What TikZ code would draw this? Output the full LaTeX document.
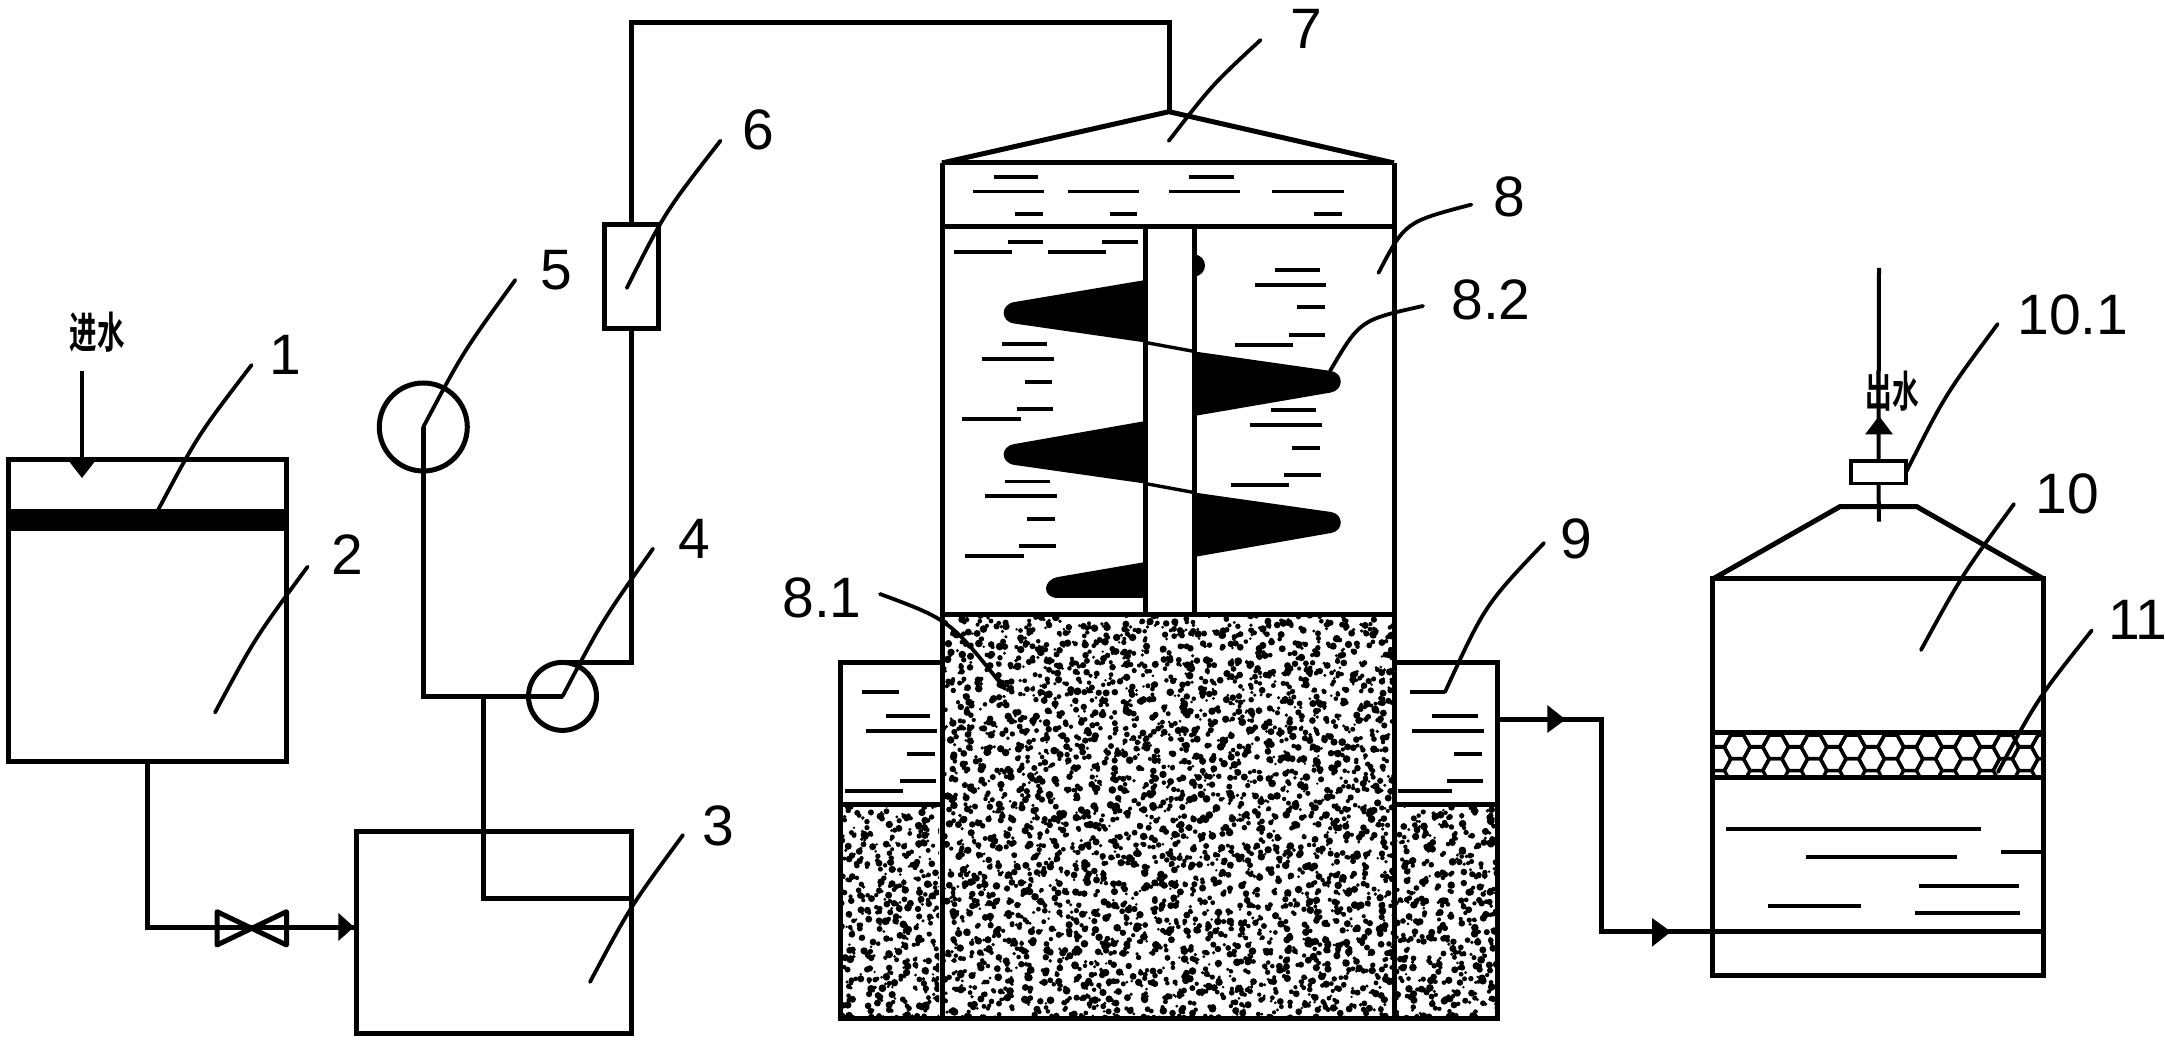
\documentclass[tikz,border=0pt]{standalone}
\usepackage{graphicx}
\usepackage{fontspec}
\setmainfont{Liberation Sans}
\newfontfamily\cjk{Noto Sans CJK SC Bold}
\newcommand\dashset[1]{\foreach \a/\b/\c in {#1} {\draw[liq] (\a,\c) -- (\b,\c);}}
\newcommand\stipple[6]{% x0 y0 x1 y1 nx ny
  \begin{scope}
  \clip (#1,#2) rectangle (#3,#4);
  \foreach \ix in {0,...,#5} {
   \foreach \iy in {0,...,#6} {
    \fill ({#1-4+(\ix+1.5*rnd)*9.6},{#2-4+(\iy+1.5*rnd)*9.6}) circle[radius={2.2+1.7*rnd}]
    ++({-5+10*rnd},{-5+10*rnd}) circle[radius={1.3+1.1*rnd}];
   }}
  \end{scope}}
\tikzset{
  pipe/.style={line width=2.5pt,line join=miter},
  thinpipe/.style={line width=2pt},
  leader/.style={line width=1.9pt,line cap=round},
  liq/.style={line width=1.9pt},
  boxnode/.style={draw,line width=2.5pt,inner sep=0pt,outer sep=0pt},
  ringnode/.style={draw,circle,line width=2.5pt,inner sep=0pt,outer sep=0pt},
  numlabel/.style={font=\fontsize{28.5}{30}\selectfont,inner sep=0pt},
  hanlabel/.style={font=\cjk\fontsize{21.5}{23}\selectfont,inner sep=0pt}
}
\begin{document}
\begin{tikzpicture}[x=0.5pt,y=-0.5pt]
\useasboundingbox (0,0) rectangle (2165,1042);
\fill[white] (0,0) rectangle (2165,1042);
\pgfmathsetseed{4242}
% ---- nodes of the left part
\node[boxnode,minimum width=139.25pt,minimum height=151pt] (tank) at (147.25,611) {};
\node[boxnode,minimum width=137.5pt,minimum height=100.75pt] (box3) at (493.5,932.25) {};
\node[ringnode,minimum size=44pt] (pump5) at (423.3,427) {};
\node[ringnode,minimum size=34pt] (pump4) at (562.5,696.4) {};
\node[boxnode,minimum width=27pt,minimum height=52pt] (meter6) at (631,276.2) {};
\fill (tank.west |- 0,509.4) rectangle (tank.east |- 0,530.7);
% feed
\coordinate (feedtop) at (82,371);
\coordinate (feedend) at (82,460);
\draw[thinpipe] (feedtop) -- (feedend);
\fill (68,460) -- (96,460) -- (82,478) -- cycle;
\node[hanlabel] (inlab) at (97,332) {\scalebox{0.64}[1]{进水}};
% pipe to box 3 with valve
\coordinate (valveL) at (217,927);
\coordinate (valveR) at (286.5,927);
\coordinate (in3) at (box3.west |- 0,927);
\draw[pipe] (tank.south) |- (valveL);
\draw[pipe] (valveR) -- (in3);
\draw[pipe] (valveL) -- (valveR);
\draw[pipe,line join=round] (217,911.7) -- (286.5,945) -- (286.5,911.7) -- (217,945) -- cycle;
\fill (338.4,913) -- (354,927) -- (338.4,941) -- cycle;
% pipes of the pump loop
\coordinate (tee) at (483.5,696.4);
\coordinate (drop) at (box3.east |- 0,898);
\draw[pipe] (tee) |- (drop);
\draw[pipe] (pump5.center) -- (423.3,696.4) -- (pump4.center);
\draw[pipe] (pump4.north) -- (562.5,662.4) -- (631,662.4) -- (meter6.south);
\coordinate (apex) at (1169,111.7);
\draw[pipe] (meter6.north) |- (1169,22.7) -- (apex);
% ---- reactor
\stipple{944}{617}{1392}{1016}{47}{42}
\stipple{842}{807}{939}{1016}{10}{22}
\stipple{1397}{807}{1496}{1016}{10}{22}
\draw[pipe,line join=bevel] (942,163) -- (apex) -- (1394,163);
\draw[pipe] (942,163) -- (1394,163) (942,226.4) -- (1394,226.4);
\draw[pipe] (942,163) -- (942,1018) (1394,163) -- (1394,1018);
\draw[pipe] (1145.5,226.4) -- (1145.5,614.6) (1194,226.4) -- (1194,614.6);
\draw[pipe] (942,614.6) -- (1394,614.6);
\draw[pipe] (942,662.8) -- (840,662.8) -- (840,1018) -- (1497,1018) -- (1497,662.8) -- (1394,662.8);
\draw[pipe] (840,804.7) -- (942,804.7) (1394,804.7) -- (1497,804.7);
% shaft knob
\fill (1194,254.5) arc[start angle=90,end angle=-90,radius=5.5pt] -- cycle;
% blades
\fill (1145.5,280) -- (1014.7,302) .. controls (1000,304) and (1000,322) .. (1014.7,323.6) -- (1145.5,342.5) -- cycle;
\fill (1194,351.4) -- (1331,371) .. controls (1344,373) and (1344,390) .. (1331,392.5) -- (1194,416) -- cycle;
\fill (1145.5,421) -- (1014.7,444) .. controls (1000,446) and (1000,463) .. (1014.7,465) -- (1145.5,483.6) -- cycle;
\fill (1194,492.5) -- (1331,512) .. controls (1344,514) and (1344,531) .. (1331,533) -- (1194,557) -- cycle;
\fill (1145.5,562) -- (1058,577) .. controls (1042,580) and (1042,598) .. (1058,598) -- (1145.5,598) -- cycle;
\draw[line width=1.7pt] (1145.5,342.5) -- (1194,351.4) (1145.5,483.6) -- (1194,492.5);
% liquid marks in the reactor
\begin{scope}[shift={(900,80)},x=0.19771pt,y=-0.17857pt]
\dashset{237/350/271,185/365/312,424/604/312,680/860/312,942/1122/312,730/845/271,292/362/375,530/600/375,1048/1118/375,
273/362/453,510/602/453,137/282/481,374/522/481,
948/1063/532,898/1078/574,1004/1074/636,985/1076/714,848/995/742,
259/373/739,208/390/781,315/385/845,295/387/921,158/306/950,
937/1051/925,885/1066/966,992/1063/1030,972/1065/1107,836/983/1135,
265/380/1124,214/396/1164,321/391/1229,302/394/1305,165/313/1333}
\end{scope}
\begin{scope}[shift={(820,600)},x=0.22321pt,y=-0.16779pt]
\dashset{95/178/275,147/247/345,102/262/390,195/258/459,180/260/540,57/187/570,
1322/1400/275,1372/1473/345,1327/1488/390,1420/1483/459,1405/1485/540,1295/1415/570}
\end{scope}
% ---- tower
\node[boxnode,minimum width=165.5pt,minimum height=198pt] (tower) at (1878.3,777) {};
\begin{scope}
\clip (1712.7,733) rectangle (2044,777.5);
\foreach \r/\yy/\xo in {0/735/1718,1/747/1737.2,2/759/1718,3/770.5/1737.2}{
  \foreach \k in {-1,...,9}{
    \draw[line width=1.7pt,shift={({\xo+\k*38.4},\yy)}]
      (-12.8,0) -- (-6.4,-11.7) -- (6.4,-11.7) -- (12.8,0) -- (6.4,11.7) -- (-6.4,11.7) -- cycle;
  }}
\end{scope}
\draw[pipe] (tower.west |- 0,733) -- (tower.east |- 0,733) (tower.west |- 0,777.5) -- (tower.east |- 0,777.5);
\draw[pipe,line join=bevel] (tower.north west) -- (1840,506.6) -- (1916.7,506.6) -- (tower.north east);
\begin{scope}[shift={(1660,260)},x=0.16667pt,y=-0.22957pt]
\dashset{197/963/1240,438/892/1301,1022/1143/1289,778/1078/1364,323/603/1407,765/1080/1422}
\end{scope}
\coordinate (inletT) at (tower.west |- 0,931.7);
\draw[pipe] (inletT) -- (tower.east |- 0,931.7);
% link reactor to tower
\coordinate (out9) at (1497,719.5);
\draw[pipe] (out9) -- (1601.7,719.5) |- (inletT);
\fill (1547.3,705) -- (1565.5,719.5) -- (1547.3,733) -- cycle;
\fill (1652,918) -- (1671,931.7) -- (1652,946.7) -- cycle;
% outlet
\node[boxnode,line width=1.9pt,minimum width=27.5pt,minimum height=11.3pt] (flow) at (1878.5,472.3) {};
\coordinate (outTop) at (1879,267.8);
\coordinate (outLow) at (1879,521.7);
\draw[thinpipe] (flow.north) -- (outTop);
\draw[thinpipe] (flow.south) -- (outLow);
\fill (1865,434.5) -- (1879,416) -- (1893,434.5) -- cycle;
\node[hanlabel] (outlab) at (1892,391) {\scalebox{0.62}[1]{出水}};
% ---- number labels
\node[numlabel] (n1) at (285,355) {1};
\node[numlabel] (n2) at (347,554.5) {2};
\node[numlabel] (n3) at (718,826) {3};
\node[numlabel] (n4) at (694,539) {4};
\node[numlabel] (n5) at (556.3,270) {5};
\node[numlabel] (n6) at (758.4,130) {6};
\node[numlabel] (n7) at (1306,29) {7};
\node[numlabel] (n8) at (1509,197) {8};
\node[numlabel] (n82) at (1491,300) {8.2};
\node[numlabel] (n81) at (822,598) {8.1};
\node[numlabel] (n9) at (1576,539) {9};
\node[numlabel] (n10) at (2067,494) {10};
\node[numlabel] (n101) at (2073,315) {10.1};
\node[numlabel] (n11) at (2138,620) {11};
% ---- leaders
\draw[leader] (158.4,509.4) .. controls (198,435) .. (251.6,365);
\draw[leader] (215,712.5) .. controls (255,638) .. (307.6,566.7);
\draw[leader] (590,982) .. controls (630,907) .. (683,835);
\draw[leader] (pump4.center) .. controls (602,621) .. (653,548.7);
\draw[leader] (pump5.center) .. controls (463,352) .. (515.3,280);
\draw[leader] (626.8,288) .. controls (665,212) .. (720.5,140.7);
\draw[leader] (1168.7,141) .. controls (1212,85) .. (1260.5,40);
\draw[leader] (1378.5,272.9) .. controls (1405,222) .. (1471.4,204.6);
\draw[leader] (1330,371) .. controls (1360,320) .. (1423,306);
\draw[leader] (880,594) .. controls (950,620) .. (1005,689);
\draw[leader] (1445,692) .. controls (1485,605) .. (1544,543);
\draw[leader] (1921,650) .. controls (1962,575) .. (2014,504);
\draw[leader] (flow.east) .. controls (1945,395) .. (1997.7,324);
\draw[leader] (1998,772) .. controls (2038,698) .. (2091.7,630.5);
\end{tikzpicture}
\end{document}
